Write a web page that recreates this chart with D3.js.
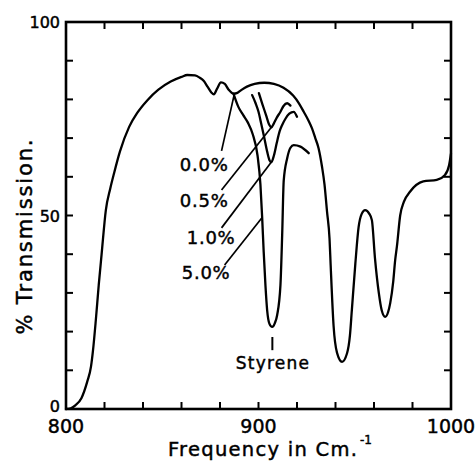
<!DOCTYPE html>
<html><head><meta charset="utf-8">
<script src="https://cdn.jsdelivr.net/npm/d3@7"></script>
<style>html,body{margin:0;padding:0;background:#fff}svg{display:block}</style>
</head><body>
<svg id="chart" width="476" height="463"></svg>
<script>
// ---- data (frequency in cm^-1, % transmission) ----
const freqPure = [800,802.5,805,808,811,813,814,815.5,817,818.5,820.7,823,825,828,832.8,837,842.3,848,854.4,860,863,867,869.5,871.5,873.5,875.5,876.8,878.5,880.5,882.5,884.5,887,889,891,894,898,903,908,913,918,921,923.5,926,927.8,929.5,931.2,933,934.3,935.6,936.9,937.5,939,940.8,943.4,946,947.5,948.5,950.3,952,953.5,955.4,957.5,958.9,960.5,962.5,964,965.8,967.3,968.4,970,971,971.9,973.6,975.5,978.8,985.6,992.6,996.9,999,1000];
const transPure = [0,0.2,1,2.8,7,11,15,23,32,40,51.4,57,61,66.5,72.9,76.5,79.8,82.5,84.6,85.8,86.3,86.2,85.6,84.8,83.3,81.8,81.3,82.8,84.4,84,82.5,81.5,81.7,82.4,83.3,84,84.3,84,83,81,79,76.8,74.5,72.5,70,67.4,62.6,58,51,44,37,21.5,14.5,12.2,14.4,19,25.6,37.5,47,50.3,51.4,50.5,48.8,39,30,25.5,23.8,25,27.3,33,38.5,42,50,53.5,56.2,58.8,59.2,60.5,63,66];

const freqHalf = [900.2,902,904,905.5,906.7,908,909.5,911.4,913,914.9,916.6];
const transHalf = [81.6,78.8,75.8,73.5,72.8,73.8,75.3,76.8,78.3,79,78.4];

const freqOne = [896.7,898.5,900,901.5,902.7,904.5,905.7,906.7,908,909.5,911,912.3,914,916,918.3,920];
const transOne = [81.1,79,76.8,73.5,70.8,66.5,64.3,63.8,65.5,68.8,71.8,73.4,75,76.3,76.8,75.5];

const freqFive = [887,889.6,892,894.5,897,899.5,901,901.9,902.7,903.6,904.5,905.7,907.1,908.5,909.7,911.4,912.3,913.1,914.9,916.6,918.3,921.8,926.1];
const transFive = [81.5,78,76,74,71,65.5,58,49.5,40.6,32,25.5,22,21.2,22.2,24.3,32,45,59,64.8,67.5,68.2,67.8,66.1];

// annotation labels (text anchor, leader start, leader end on curve) in data units
const annotLabels = ["0.0%","0.5%","1.0%","5.0%"];
const annotTextF  = [859.1,859.1,862.7,860.1];
const annotTextT  = [61.5,52.2,42.6,33.6];
const annotFromF  = [880.8,880.8,880.8,882.4];
const annotFromT  = [66.7,56.6,46.8,37.2];
const annotToF    = [887.5,906.7,906.7,901.9];
const annotToT    = [81.5,72.8,63.8,49.5];

const styreneLabel = "Styrene";
const styreneF = 907.2, styreneTop = 18.6, styreneBottom = 15.2, styreneTextT = 10.3;

const xTicks = [800,820,840,860,880,900,920,940,960,980,1000];
const xTickLabels = [800,900,1000];
const yTicks = [0,10,20,30,40,50,60,70,80,90,100];
const yTickLabels = [0,50,100];
const xTitle = "Frequency in Cm.";
const xTitleSup = "-1";
const yTitle = "% Transmission.";

// ---- drawing ----
const svg = d3.select("#chart");
const x = d3.scaleLinear().domain([800,1000]).range([66,451]);
const y = d3.scaleLinear().domain([0,100]).range([409,22]);
const font = "'DejaVu Sans', sans-serif";
const ink = "#000";
const textStyle = sel => sel.attr("font-family",font).attr("fill",ink)
  .attr("stroke",ink).attr("stroke-width",0.45);

const line = d3.line().x(d=>x(d[0])).y(d=>y(d[1])).curve(d3.curveMonotoneX);
const zip = (a,b)=>a.map((v,i)=>[v,b[i]]);
const series = [zip(freqPure,transPure), zip(freqHalf,transHalf), zip(freqOne,transOne), zip(freqFive,transFive)];

// frame
svg.append("rect").attr("x",x(800)).attr("y",y(100)).attr("width",x(1000)-x(800)).attr("height",y(0)-y(100))
  .attr("fill","none").attr("stroke",ink).attr("stroke-width",2.6);

// inward tick marks on all four sides
const tickLen = 7;
const innerX = xTicks.filter(d=>d>800 && d<1000);
const innerY = yTicks.filter(d=>d>0 && d<100);
const tickSegs = [];
innerX.forEach(d=>{
  tickSegs.push([x(d),y(0),x(d),y(0)-tickLen]);
  tickSegs.push([x(d),y(100),x(d),y(100)+tickLen]);
});
innerY.forEach(d=>{
  tickSegs.push([x(800),y(d),x(800)+tickLen,y(d)]);
  tickSegs.push([x(1000),y(d),x(1000)-tickLen,y(d)]);
});
svg.append("g").selectAll("line").data(tickSegs).enter().append("line")
  .attr("x1",s=>s[0]).attr("y1",s=>s[1]).attr("x2",s=>s[2]).attr("y2",s=>s[3])
  .style("stroke",ink).style("stroke-width","2px");

// tick labels
svg.append("g").selectAll("text").data(xTickLabels).join("text")
  .call(textStyle).attr("font-size",19).attr("text-anchor","middle")
  .attr("x",d=>x(d)).attr("y",y(0)+24).text(d=>d);
svg.append("g").selectAll("text").data(yTickLabels).join("text")
  .call(textStyle).attr("font-size",16).attr("text-anchor","end")
  .attr("x",x(800)-6).attr("y",d=>y(d)+(d===0?3:6)).text(d=>d);

// spectra
svg.append("g").selectAll("path").data(series).join("path")
  .attr("d",line).attr("fill","none").attr("stroke",ink).attr("stroke-width",2.3)
  .attr("stroke-linecap","round").attr("stroke-linejoin","round");

// leader lines + labels
annotLabels.forEach((lab,i)=>{
  svg.append("line").attr("x1",x(annotFromF[i])).attr("y1",y(annotFromT[i]))
    .attr("x2",x(annotToF[i])).attr("y2",y(annotToT[i]))
    .attr("stroke",ink).attr("stroke-width",1.7);
  svg.append("text").call(textStyle).attr("x",x(annotTextF[i])).attr("y",y(annotTextT[i]))
    .attr("font-size",18).attr("textLength",48).attr("lengthAdjust","spacing").text(lab);
});

// styrene marker
svg.append("line").attr("x1",x(styreneF)).attr("x2",x(styreneF))
  .attr("y1",y(styreneTop)).attr("y2",y(styreneBottom)).attr("stroke",ink).attr("stroke-width",2);
svg.append("text").call(textStyle).attr("x",x(styreneF)).attr("y",y(styreneTextT)).attr("text-anchor","middle")
  .attr("font-size",17).attr("textLength",73).attr("lengthAdjust","spacing").text(styreneLabel);

// axis titles
svg.append("text").call(textStyle).attr("x",168).attr("y",456).attr("font-size",19.5)
  .attr("textLength",189).attr("lengthAdjust","spacing").text(xTitle);
svg.append("text").call(textStyle).attr("x",360).attr("y",444).attr("font-size",12).text(xTitleSup);

svg.append("text").call(textStyle).attr("transform","translate(32,237) rotate(-90)").attr("text-anchor","middle")
  .attr("font-size",21).attr("textLength",195).attr("lengthAdjust","spacing").text(yTitle);
</script>
</body></html>
